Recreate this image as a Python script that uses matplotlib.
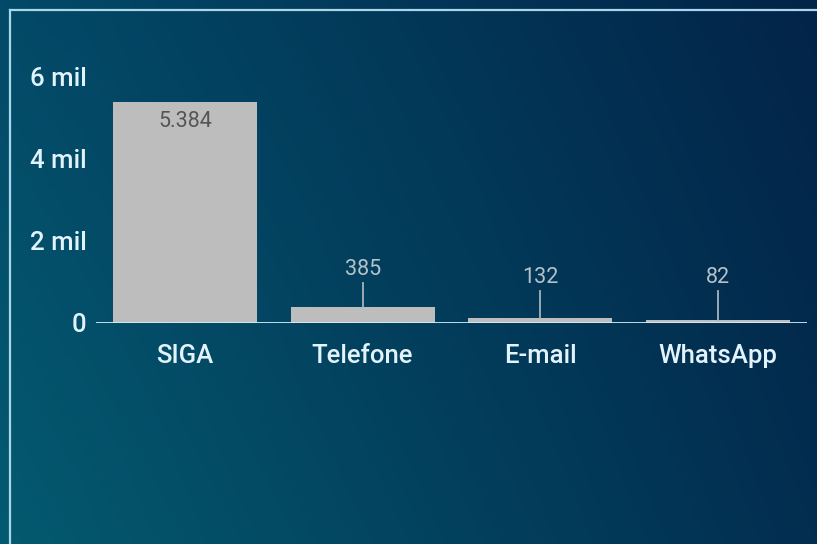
import numpy as np
import matplotlib
matplotlib.use("Agg")
import matplotlib.pyplot as plt
from matplotlib.lines import Line2D

categories = ["SIGA", "Telefone", "E-mail", "WhatsApp"]
values = [5384, 385, 132, 82]
value_labels = ["5.384", "385", "132", "82"]
yticks = [0, 2000, 4000, 6000]
ytick_labels = ["0", "2 mil", "4 mil", "6 mil"]

plt.rcParams['font.family'] = ['Roboto', 'DejaVu Sans']

W, H = 817, 544
fig = plt.figure(figsize=(W / 100, H / 100), dpi=100)

# background gradient
bg = fig.add_axes([0, 0, 1, 1], zorder=-10)
bg.set_axis_off()
tl = np.array([3, 74, 104]) / 255
tr = np.array([2, 36, 72]) / 255
bl = np.array([4, 90, 112]) / 255
br = np.array([2, 46, 80]) / 255
xs = np.linspace(0, 1, 200)[None, :, None]
ys = np.linspace(0, 1, 140)[:, None, None]
top = tl * (1 - xs) + tr * xs
bot = bl * (1 - xs) + br * xs
img = top * (1 - ys) + bot * ys
bg.imshow(img, aspect='auto', extent=[0, 1, 0, 1], origin='upper')
bg.set_xlim(0, 1)
bg.set_ylim(0, 1)

# border lines
fig.add_artist(Line2D([10 / W, 10 / W], [0, 1 - 10 / H], transform=fig.transFigure,
                      color='#a9d6ea', lw=1.6))
fig.add_artist(Line2D([10 / W, 1], [1 - 10 / H, 1 - 10 / H], transform=fig.transFigure,
                      color='#a9d6ea', lw=1.6))

ax = fig.add_axes([96 / W, 1 - 323 / H, (807 - 96) / W, (323 - 60) / H])
ax.patch.set_alpha(0)
x = np.arange(len(categories))
ax.bar(x, values, width=0.81, color='#bdbdbd', zorder=2)
ax.set_xlim(-0.5, 3.5)
ax.set_ylim(0, 6400)
ax.axhline(0, color='#d4ecf6', lw=2, zorder=3)
for s in ax.spines.values():
    s.set_visible(False)
ax.set_xticks(x)
ax.set_xticklabels(categories, fontsize=18.5, color='#e2f3fb', fontweight='medium')
ax.set_yticks(yticks)
ax.set_yticklabels(ytick_labels, fontsize=18.5, color='#e2f3fb', fontweight='medium')
ax.tick_params(axis='y', length=0, pad=7)
ax.tick_params(axis='x', length=0, pad=15)

for i, (v, lab) in enumerate(zip(values, value_labels)):
    if v > 2000:
        ax.text(i, v - 230, lab, ha='center', va='top', fontsize=15.5,
                color='#555555', zorder=4)
    else:
        ly = max(v + 660, 840)
        ax.plot([i, i], [v, ly - 70], color='#a8b4bc', lw=1.3, zorder=4)
        ax.text(i, ly, lab, ha='center', va='bottom', fontsize=15.5,
                color='#b6c2ca', zorder=4)

fig.savefig("out.png", dpi=100)
